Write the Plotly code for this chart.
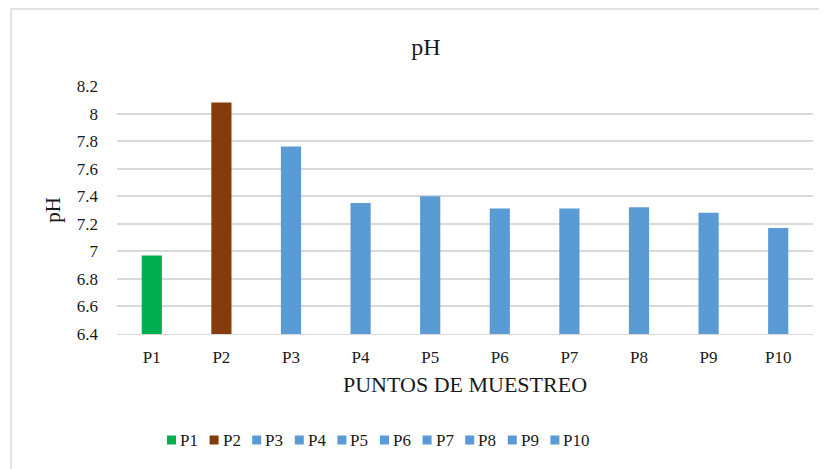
import plotly.graph_objects as go

categories = ["P1", "P2", "P3", "P4", "P5", "P6", "P7", "P8", "P9", "P10"]
ph_values = [6.97, 8.08, 7.76, 7.35, 7.40, 7.31, 7.31, 7.32, 7.28, 7.17]
bar_colors = ["#00B050", "#843C0C", "#5B9BD5", "#5B9BD5", "#5B9BD5",
              "#5B9BD5", "#5B9BD5", "#5B9BD5", "#5B9BD5", "#5B9BD5"]
y_tick_values = [6.4, 6.6, 6.8, 7.0, 7.2, 7.4, 7.6, 7.8, 8.0, 8.2]
y_tick_labels = ["6.4", "6.6", "6.8", "7", "7.2", "7.4", "7.6", "7.8", "8", "8.2"]

FONT = "Liberation Serif"

fig = go.Figure()
for cat, val, col in zip(categories, ph_values, bar_colors):
    fig.add_trace(go.Bar(x=[cat], y=[val], name=cat, marker_color=col,
                         marker_line_width=0, width=0.29, showlegend=False))

# page offset (browser body margin)
OX, OY = 8, 8
W, H = 827, 469
# desired plot area in window pixels
PX0, PX1, PY0, PY1 = 117, 813, 86, 334
L = PX0 - OX
R = W - (PX1 - OX)
T = PY0 - OY
B = H - (PY1 - OY)
pw, ph = PX1 - PX0, PY1 - PY0

def px_x(x):
    return (x - PX0) / pw

def px_y(y):
    return (PY1 - y) / ph

shapes = [dict(type="rect", xref="paper", yref="paper",
               x0=px_x(11), x1=px_x(845), y0=px_y(490), y1=px_y(9),
               line=dict(color="#d9d9d9", width=1.5), layer="below")]
annotations = []
leg_x0, leg_step, leg_y = 167, 42.6, 440
for i, (cat, col) in enumerate(zip(categories, bar_colors)):
    sx = leg_x0 + leg_step * i
    shapes.append(dict(type="rect", xref="paper", yref="paper",
                       x0=px_x(sx), x1=px_x(sx + 9),
                       y0=px_y(leg_y + 4.5), y1=px_y(leg_y - 4.5),
                       fillcolor=col, line=dict(width=0)))
    annotations.append(dict(text=cat, xref="paper", yref="paper",
                            x=px_x(sx + 11), y=px_y(leg_y),
                            xanchor="left", yanchor="middle", showarrow=False,
                            font=dict(family=FONT, size=17, color="#1a1a1a")))

fig.update_layout(
    width=W, height=H,
    margin=dict(l=L, r=R, t=T, b=B),
    paper_bgcolor="white", plot_bgcolor="white",
    barmode="overlay",
    showlegend=False,
    font=dict(family=FONT, size=17, color="#404040"),
    title=dict(text="pH", x=px_x(426), xref="paper", xanchor="center",
               y=1 - (47 - OY) / H, yanchor="middle",
               font=dict(family=FONT, size=24, color="#1a1a1a")),
    xaxis=dict(categoryorder="array", categoryarray=categories,
               showgrid=False, showline=True, linecolor="#d9d9d9", linewidth=1,
               ticks="", ticklabelstandoff=8,
               tickfont=dict(family=FONT, size=17, color="#1a1a1a"),
               title=dict(text="PUNTOS DE MUESTREO", standoff=10,
                          font=dict(family=FONT, size=22, color="#1a1a1a"))),
    yaxis=dict(range=[6.4, 8.2], tickvals=y_tick_values, ticktext=y_tick_labels,
               showgrid=True, gridcolor="#d9d9d9", gridwidth=1.5,
               zeroline=False, showline=False, ticks="", ticklabelstandoff=18,
               tickfont=dict(family=FONT, size=17, color="#1a1a1a"),
               title=dict(text="pH", standoff=10,
                          font=dict(family=FONT, size=21, color="#1a1a1a"))),
    shapes=shapes,
    annotations=annotations,
)

fig.write_html("out.html")
